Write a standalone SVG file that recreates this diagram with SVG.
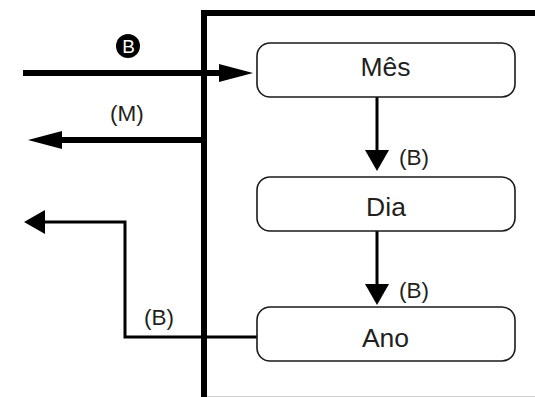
<svg xmlns="http://www.w3.org/2000/svg" width="535" height="397" viewBox="0 0 535 397">
  <style>
    .node rect { fill: #ffffff; stroke: #1a1a1a; stroke-width: 1.6; }
    .node text { font-family: "Liberation Sans", Arial, sans-serif; font-size: 26.5px; fill: #231f20; text-anchor: middle; }
    .label { font-family: "Liberation Sans", Arial, sans-serif; font-size: 22.5px; fill: #231f20; }
    .thick { stroke: #000; stroke-width: 6; fill: none; }
    .thin { stroke: #000; stroke-width: 3; fill: none; }
  </style>
  <defs>
    <marker id="bigHead" viewBox="0 0 34 18" refX="4" refY="9" markerWidth="34" markerHeight="18" markerUnits="userSpaceOnUse" orient="auto">
      <path d="M0,0 L34,9 L0,18 Z" fill="#000"/>
    </marker>
    <marker id="smallHead" viewBox="0 0 21 24" refX="3" refY="12" markerWidth="21" markerHeight="24" markerUnits="userSpaceOnUse" orient="auto">
      <path d="M0,0 L21,12 L0,24 Z" fill="#000"/>
    </marker>
  </defs>
  <rect width="535" height="397" fill="#ffffff"/>

  <g id="frame">
    <path d="M204,397 V13 H535" stroke="#000" stroke-width="6" fill="none" stroke-linejoin="miter"/>
    <line x1="207" y1="396.5" x2="535" y2="396.5" stroke="#cfcfcf" stroke-width="1"/>
  </g>

  <g id="connectors">
    <path class="thick" d="M23,73 H223" marker-end="url(#bigHead)"/>
    <path class="thick" d="M204,140 H58" marker-end="url(#bigHead)"/>
    <path class="thin" d="M377,97 V153" marker-end="url(#smallHead)"/>
    <path class="thin" d="M377,231 V287" marker-end="url(#smallHead)"/>
    <path class="thin" d="M257,337 H125 V222 H42" marker-end="url(#smallHead)"/>
  </g>

  <g id="labels">
    <g id="label-circled-B">
      <circle cx="128" cy="46" r="12" fill="#000"/>
      <text x="128.5" y="53" font-family="Liberation Sans, Arial, sans-serif" font-size="19" fill="#ffffff" text-anchor="middle">B</text>
    </g>
    <text class="label" x="110" y="121">(M)</text>
    <text class="label" x="399" y="165">(B)</text>
    <text class="label" x="399" y="298">(B)</text>
    <text class="label" x="144" y="325">(B)</text>
  </g>

  <g id="node-mes" class="node">
    <rect x="257" y="43" width="258" height="54" rx="13"/>
    <text x="385.5" y="76">Mês</text>
  </g>
  <g id="node-dia" class="node">
    <rect x="257" y="177" width="258" height="54" rx="13"/>
    <text x="386" y="216">Dia</text>
  </g>
  <g id="node-ano" class="node">
    <rect x="257" y="307" width="258" height="54" rx="13"/>
    <text x="385.5" y="346.5">Ano</text>
  </g>
</svg>
